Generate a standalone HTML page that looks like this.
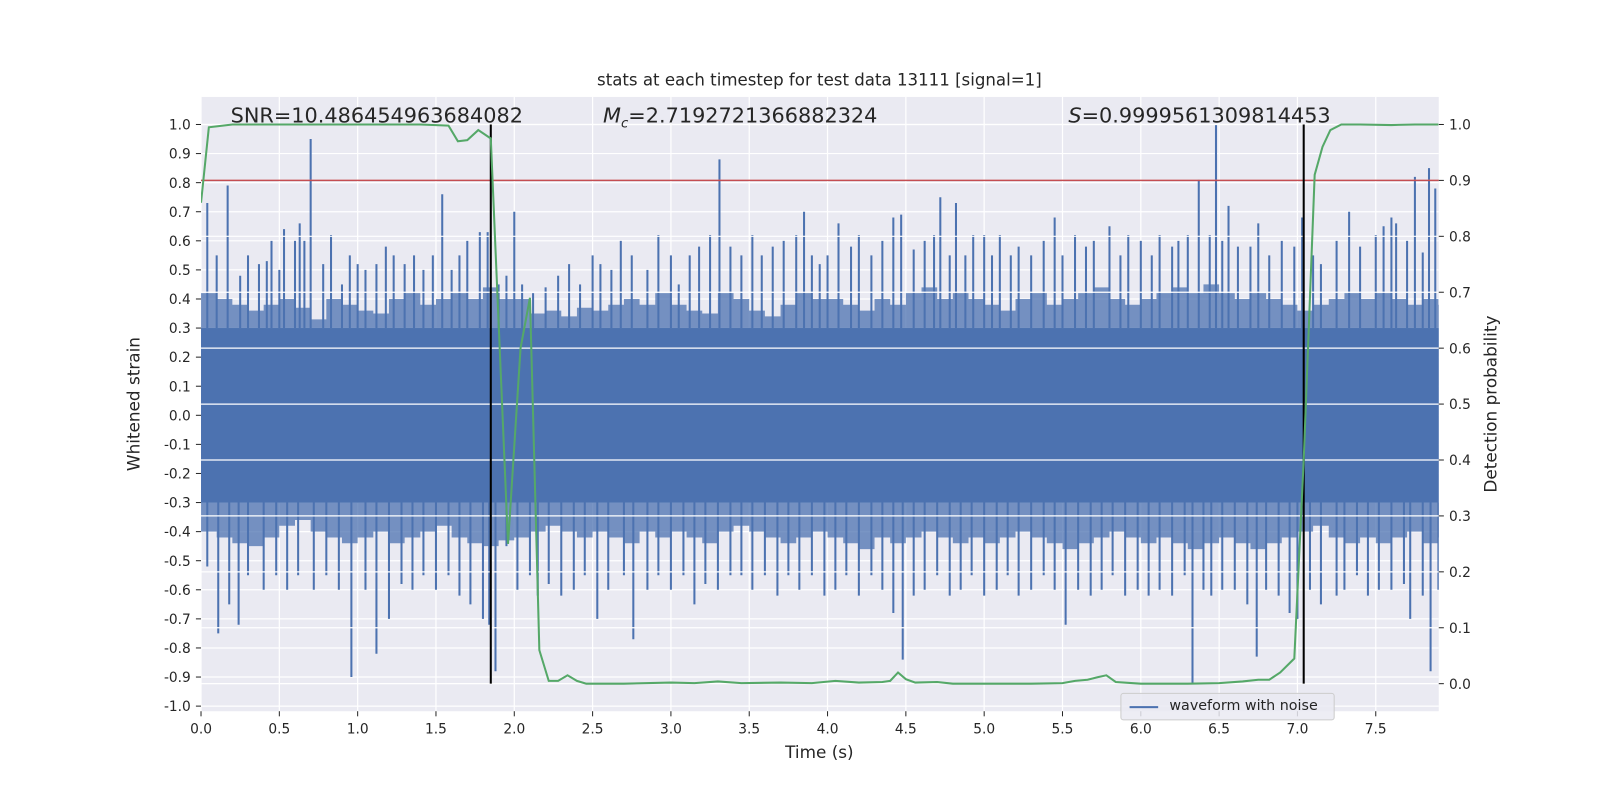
<!DOCTYPE html>
<html><head><meta charset="utf-8">
<style>
html,body{margin:0;padding:0;background:#fff;width:1600px;height:800px;overflow:hidden;}
svg{display:block;font-family:"DejaVu Sans","Liberation Sans",sans-serif;}
#wrap{position:relative;width:1600px;height:800px;transform:scale(1.0204);transform-origin:0 0;}
</style></head>
<body>
<div id="wrap">
<svg id="chart" width="1600" height="800" viewBox="0 0 1600 800" style="position:absolute;left:0;top:0;"></svg>
<div style="position:absolute;left:0;top:0;width:1600px;height:800px;pointer-events:none;font-family:'DejaVu Sans','Liberation Sans',sans-serif;color:#262626;">
  <div style="position:absolute;left:0;width:1606px;top:69px;text-align:center;font-size:16.3px;">stats at each timestep for test data 13111 [signal=1]</div>
  <div style="position:absolute;left:226px;top:101px;font-size:20.4px;">SNR=10.486454963684082</div>
  <div style="position:absolute;left:591px;top:101px;font-size:20.4px;"><i>M</i><sub style="font-size:13px;"><i>c</i></sub>=2.7192721366882324</div>
  <div style="position:absolute;left:1047px;top:101px;font-size:20.4px;"><i>S</i>=0.9999561309814453</div>
  <div style="position:absolute;left:0;width:1606px;top:728px;text-align:center;font-size:16.5px;">Time (s)</div>
  <div style="position:absolute;left:131px;top:396px;font-size:16.5px;transform:translate(-50%,-50%) rotate(-90deg);white-space:nowrap;">Whitened strain</div>
  <div style="position:absolute;left:1461px;top:396px;font-size:16.5px;transform:translate(-50%,-50%) rotate(-90deg);white-space:nowrap;">Detection probability</div>
  <div style="position:absolute;left:1098px;top:679px;width:208px;height:25px;background:rgba(234,234,242,0.85);border:1px solid #ccc;border-radius:3px;font-size:14px;">
    <span style="position:absolute;left:8px;top:12px;width:28px;height:2px;background:#4c72b0;"></span>
    <span style="position:absolute;left:47px;top:4px;">waveform with noise</span>
  </div>
</div>
</div>
<script>
// ---- data ----
const upT = [0.04,0.1,0.17,0.25,0.3,0.37,0.42,0.45,0.5,0.53,0.6,0.63,0.66,0.7,0.78,0.83,0.9,0.95,1.0,1.05,1.12,1.18,1.23,1.3,1.36,1.42,1.48,1.54,1.6,1.65,1.7,1.78,1.83,1.9,1.95,2.0,2.05,2.12,2.2,2.28,2.35,2.42,2.5,2.55,2.62,2.68,2.75,2.85,2.92,3.0,3.05,3.12,3.18,3.25,3.31,3.38,3.45,3.52,3.58,3.65,3.72,3.8,3.85,3.9,3.95,4.0,4.07,4.15,4.2,4.28,4.35,4.42,4.47,4.55,4.62,4.68,4.72,4.78,4.82,4.88,4.93,5.0,5.05,5.1,5.17,5.22,5.3,5.38,5.45,5.5,5.58,5.65,5.7,5.8,5.87,5.92,6.0,6.07,6.12,6.2,6.24,6.3,6.37,6.44,6.48,6.52,6.56,6.62,6.7,6.75,6.82,6.9,6.98,7.03,7.1,7.15,7.25,7.33,7.4,7.5,7.55,7.6,7.63,7.7,7.75,7.8,7.84,7.88,7.92];
const upV = [0.73,0.55,0.79,0.48,0.55,0.52,0.53,0.6,0.5,0.64,0.6,0.66,0.6,0.95,0.52,0.62,0.45,0.55,0.52,0.5,0.52,0.58,0.55,0.52,0.55,0.5,0.55,0.76,0.5,0.55,0.6,0.63,0.63,0.45,0.48,0.7,0.45,0.42,0.44,0.48,0.52,0.45,0.55,0.52,0.5,0.6,0.55,0.5,0.62,0.55,0.45,0.55,0.58,0.62,0.88,0.58,0.55,0.62,0.55,0.58,0.6,0.62,0.7,0.55,0.52,0.55,0.66,0.58,0.62,0.55,0.6,0.68,0.69,0.57,0.6,0.62,0.75,0.55,0.73,0.55,0.62,0.62,0.55,0.62,0.55,0.58,0.55,0.6,0.68,0.55,0.62,0.58,0.6,0.65,0.55,0.62,0.6,0.55,0.62,0.58,0.6,0.62,0.81,0.62,1.0,0.6,0.72,0.58,0.58,0.66,0.55,0.6,0.58,0.68,0.55,0.52,0.6,0.7,0.58,0.62,0.65,0.68,0.66,0.6,0.82,0.56,0.85,0.78,0.6];
const downT = [0.04,0.11,0.18,0.24,0.3,0.4,0.48,0.55,0.62,0.72,0.8,0.88,0.96,1.05,1.12,1.2,1.28,1.35,1.42,1.5,1.58,1.65,1.72,1.8,1.84,1.88,1.95,2.02,2.1,2.15,2.22,2.3,2.38,2.45,2.53,2.6,2.7,2.76,2.85,2.92,3.0,3.08,3.15,3.22,3.3,3.38,3.45,3.52,3.6,3.68,3.75,3.82,3.9,3.98,4.05,4.12,4.2,4.28,4.35,4.42,4.48,4.55,4.62,4.7,4.78,4.85,4.92,5.0,5.08,5.15,5.22,5.3,5.38,5.45,5.52,5.6,5.68,5.75,5.82,5.9,5.98,6.05,6.12,6.2,6.28,6.33,6.4,6.45,6.52,6.6,6.68,6.74,6.8,6.88,6.95,7.0,7.08,7.15,7.25,7.3,7.38,7.45,7.52,7.6,7.68,7.72,7.8,7.85,7.9];
const downV = [-0.52,-0.75,-0.65,-0.72,-0.55,-0.6,-0.55,-0.6,-0.55,-0.6,-0.55,-0.6,-0.9,-0.6,-0.82,-0.7,-0.58,-0.6,-0.55,-0.6,-0.55,-0.62,-0.65,-0.7,-0.72,-0.88,-0.45,-0.6,-0.55,-0.62,-0.58,-0.62,-0.6,-0.55,-0.7,-0.6,-0.55,-0.77,-0.6,-0.55,-0.6,-0.55,-0.65,-0.58,-0.6,-0.55,-0.55,-0.6,-0.55,-0.62,-0.55,-0.6,-0.55,-0.62,-0.6,-0.55,-0.62,-0.55,-0.6,-0.68,-0.84,-0.62,-0.6,-0.55,-0.62,-0.6,-0.55,-0.62,-0.6,-0.55,-0.62,-0.6,-0.55,-0.6,-0.72,-0.6,-0.62,-0.6,-0.55,-0.62,-0.6,-0.62,-0.6,-0.62,-0.55,-0.92,-0.6,-0.62,-0.6,-0.6,-0.65,-0.83,-0.6,-0.62,-0.68,-0.7,-0.6,-0.65,-0.62,-0.6,-0.55,-0.62,-0.6,-0.6,-0.58,-0.7,-0.62,-0.88,-0.6];
// dense envelope per 0.1 s bin
const envUp = [0.42,0.4,0.38,0.36,0.38,0.4,0.37,0.33,0.4,0.38,0.36,0.35,0.4,0.42,0.38,0.4,0.42,0.4,0.44,0.4,0.4,0.35,0.36,0.34,0.37,0.36,0.38,0.4,0.38,0.42,0.38,0.36,0.35,0.42,0.4,0.36,0.34,0.38,0.42,0.4,0.4,0.38,0.36,0.4,0.38,0.42,0.44,0.4,0.42,0.4,0.38,0.36,0.4,0.42,0.38,0.4,0.42,0.44,0.4,0.38,0.4,0.42,0.44,0.42,0.45,0.42,0.4,0.42,0.4,0.38,0.36,0.38,0.4,0.42,0.4,0.42,0.4,0.38,0.4,0.38];
const envDn = [-0.4,-0.42,-0.44,-0.45,-0.42,-0.38,-0.36,-0.4,-0.42,-0.44,-0.42,-0.4,-0.44,-0.42,-0.4,-0.38,-0.42,-0.44,-0.45,-0.43,-0.42,-0.4,-0.38,-0.4,-0.42,-0.4,-0.42,-0.44,-0.4,-0.42,-0.4,-0.42,-0.44,-0.4,-0.38,-0.4,-0.42,-0.44,-0.42,-0.4,-0.42,-0.44,-0.46,-0.42,-0.44,-0.42,-0.4,-0.42,-0.44,-0.42,-0.44,-0.42,-0.4,-0.42,-0.44,-0.46,-0.44,-0.42,-0.4,-0.42,-0.44,-0.42,-0.44,-0.46,-0.44,-0.42,-0.44,-0.46,-0.44,-0.42,-0.4,-0.38,-0.42,-0.44,-0.42,-0.44,-0.42,-0.4,-0.44,-0.42];
const coreTop = 0.3, coreBottom = -0.3;
const probT = [0,0.05,0.2,0.6,1.0,1.4,1.58,1.64,1.7,1.77,1.85,1.96,2.04,2.1,2.16,2.22,2.28,2.34,2.4,2.46,2.7,3.0,3.15,3.3,3.45,3.7,3.9,4.05,4.2,4.35,4.4,4.45,4.5,4.56,4.7,4.8,5.0,5.3,5.5,5.58,5.66,5.73,5.78,5.84,6.0,6.3,6.5,6.65,6.75,6.82,6.89,6.98,7.04,7.11,7.16,7.21,7.28,7.4,7.6,7.75,7.9];
const probV = [0.86,0.995,1.0,1.0,1.0,1.0,0.998,0.97,0.972,0.99,0.975,0.25,0.6,0.69,0.06,0.005,0.005,0.015,0.005,0.0,0.0,0.002,0.001,0.004,0.001,0.002,0.001,0.005,0.002,0.003,0.005,0.02,0.008,0.002,0.003,0.0,0.0,0.0,0.001,0.005,0.007,0.012,0.015,0.003,0.0,0.0,0.001,0.004,0.007,0.007,0.02,0.045,0.4,0.91,0.96,0.99,1.0,1.0,0.999,1.0,1.0];
const threshold = 0.9;
const markerT = [1.85, 7.04];
const xTicks = [0,0.5,1,1.5,2,2.5,3,3.5,4,4.5,5,5.5,6,6.5,7,7.5];
const yTicks = [-1,-0.9,-0.8,-0.7,-0.6,-0.5,-0.4,-0.3,-0.2,-0.1,0,0.1,0.2,0.3,0.4,0.5,0.6,0.7,0.8,0.9,1.0];
const pTicks = [0,0.1,0.2,0.3,0.4,0.5,0.6,0.7,0.8,0.9,1.0];

// ---- layout ----
const L=197,R=1410,T=95,B=697;
const X=t=>L+t*153.5;
const Y=v=>407-v*285;
const P=p=>670-p*548;
const NS="http://www.w3.org/2000/svg";
const svg=document.getElementById('chart');
function el(tag,attrs,parent){const e=document.createElementNS(NS,tag);for(const k in attrs)e.setAttribute(k,attrs[k]);(parent||svg).appendChild(e);return e;}

const bg=el('rect',{x:L,y:T,width:R-L,height:B-T,fill:'#eaeaf2'});



const grid=el('g',{});


xTicks.forEach(t=>el('line',{x1:X(t),x2:X(t),y1:T,y2:B,stroke:'#fff','stroke-width':1.2},grid));
yTicks.forEach(v=>el('line',{x1:L,x2:R,y1:Y(v),y2:Y(v),stroke:'#fff','stroke-width':1.2},grid));

const clip=el('clipPath',{id:'pc'});el('rect',{x:L,y:T,width:R-L,height:B-T},clip);
const wave=el('g',{'clip-path':'url(#pc)'});


const blue='#4c72b0';
let pts=[];
envUp.forEach((v,i)=>{pts.push(X(i*0.1)+','+Y(v));pts.push(X(i*0.1+0.1)+','+Y(v));});
for(let i=envDn.length-1;i>=0;i--){pts.push(X(i*0.1+0.1)+','+Y(envDn[i]));pts.push(X(i*0.1)+','+Y(envDn[i]));}
el('polygon',{points:pts.join(' '),fill:blue,opacity:0.75},wave);
el('rect',{x:L,y:Y(coreTop),width:R-L,height:Y(coreBottom)-Y(coreTop),fill:blue},wave);
upT.forEach((t,i)=>el('line',{x1:X(t),x2:X(t),y1:Y(coreTop),y2:Y(upV[i]),stroke:blue,'stroke-width':2},wave));
downT.forEach((t,i)=>el('line',{x1:X(t),x2:X(t),y1:Y(coreBottom),y2:Y(downV[i]),stroke:blue,'stroke-width':2},wave));

const grid2=el('g',{});


pTicks.forEach(p=>el('line',{x1:L,x2:R,y1:P(p),y2:P(p),stroke:'#fff','stroke-width':1.2},grid2));

const th=el('line',{x1:L,x2:R,y1:P(threshold),y2:P(threshold),stroke:'#c44e52','stroke-width':1.5});


markerT.forEach(t=>{const m=el('line',{x1:X(t),x2:X(t),y1:P(1),y2:P(0),stroke:'#000','stroke-width':2});

});

const pl=el('polyline',{points:probT.map((t,i)=>X(t)+','+P(probV[i])).join(' '),fill:'none',stroke:'#55a868','stroke-width':2,'clip-path':'url(#pc)'});



const tk=el('g',{'font-size':13.5,fill:'#262626'});


xTicks.forEach(t=>{el('line',{x1:X(t),x2:X(t),y1:B,y2:B+5,stroke:'#262626'},tk);const s=el('text',{x:X(t),y:B+22,'text-anchor':'middle'},tk);s.textContent=t.toFixed(1);});
yTicks.forEach(v=>{el('line',{x1:L-5,x2:L,y1:Y(v),y2:Y(v),stroke:'#262626'},tk);const s=el('text',{x:L-10,y:Y(v)+5,'text-anchor':'end'},tk);s.textContent=(Math.abs(v)<1e-9?0:v).toFixed(1);});
pTicks.forEach(p=>{el('line',{x1:R,x2:R+5,y1:P(p),y2:P(p),stroke:'#262626'},tk);const s=el('text',{x:R+10,y:P(p)+5},tk);s.textContent=p.toFixed(1);});
</script>
</body></html>
